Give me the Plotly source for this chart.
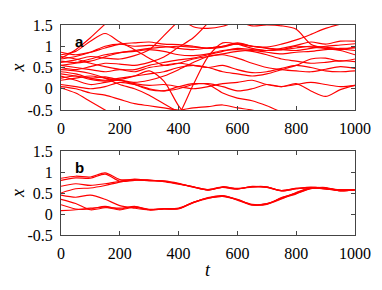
import plotly.graph_objects as go

t_grid = [0, 50, 100, 150, 200, 250, 300, 350, 400, 450, 500, 550, 600, 650, 700, 750, 800, 850, 900, 950, 1000]
N = None

# panel a trajectories (x values at t_grid)
a_lines = [
    [0.72, 0.92, 1.20, 1.52, 1.80, N, N, N, N, N, N, N, N, N, N, N, N, N, N, N, N],
    [0.80, 0.88, 1.12, 1.30, 1.10, 0.92, 0.72, 0.55, 0.60, 0.70, 0.76, 0.80, 0.72, 0.60, 0.50, 0.45, 0.42, 0.40, 0.46, 0.52, 0.48],
    [0.62, 0.68, 0.76, 0.72, 0.70, 0.78, 0.92, 1.25, 1.60, N, N, N, N, N, N, N, N, N, N, N, N],
    [0.86, 0.80, 0.86, 0.96, 1.05, 1.08, 1.10, 1.05, 1.04, 1.00, 0.95, 0.98, 1.06, 1.00, 0.95, 0.92, 0.90, 0.95, 1.00, 1.03, 1.06],
    [0.70, 0.76, 0.86, 1.00, 1.05, 1.00, 1.02, 1.00, 0.95, 0.92, 0.96, 1.00, 1.08, 1.00, 0.96, 0.92, 1.00, 0.98, 0.95, 0.92, 0.98],
    [0.76, 0.70, 0.60, 0.52, 0.46, 0.45, 0.55, 0.62, 0.68, 0.72, 0.80, 0.88, 0.95, 0.92, 0.90, 0.92, 0.96, 1.00, 0.98, 0.94, 0.90],
    [0.50, 0.45, 0.52, 0.60, 0.58, 0.55, 0.62, 0.75, 0.98, 1.20, 1.55, N, N, N, N, N, N, N, N, N, N],
    [0.30, 0.20, 0.10, 0.15, 0.20, 0.15, 0.20, 0.30, 0.45, 0.62, 0.76, 0.82, 0.88, 0.90, 0.86, 0.82, 0.86, 0.88, 0.92, 0.95, 0.96],
    [N, N, N, N, N, N, -1.30, -1.00, -0.62, 0.10, 0.75, 1.08, 1.05, 0.95, 0.90, 0.95, 1.02, 1.10, 1.05, 1.12, 1.12],
    [0.45, 0.42, 0.36, 0.25, 0.10, 0.00, -0.15, -0.35, -0.55, -0.75, N, N, N, N, N, N, N, N, N, N, N],
    [0.20, 0.25, 0.30, 0.25, 0.22, 0.30, 0.42, 0.18, -0.40, -0.80, N, N, N, N, N, N, N, N, N, N, N],
    [0.10, 0.05, 0.00, 0.05, 0.15, 0.10, 0.00, -0.05, 0.00, 0.10, 0.12, 0.05, -0.05, 0.00, 0.10, 0.05, 0.10, 0.15, 0.10, 0.05, 0.08],
    [0.02, -0.10, -0.30, -0.50, -0.70, N, N, N, N, N, N, N, N, N, N, N, N, N, N, N, N],
    [0.25, 0.30, 0.22, 0.18, 0.20, 0.10, -0.02, -0.05, 0.05, 0.12, 0.10, -0.10, -0.22, -0.28, -0.40, -0.55, N, N, N, N, N],
    [0.55, 0.50, 0.45, 0.40, 0.45, 0.40, 0.50, 0.55, 0.60, 0.55, 0.50, 0.55, 0.45, 0.38, 0.40, 0.48, 0.55, 0.50, 0.42, 0.40, 0.42],
    [0.35, 0.30, 0.25, 0.28, 0.20, 0.12, 0.08, 0.10, 0.05, 0.00, 0.05, 0.12, 0.15, 0.20, 0.10, 0.05, 0.12, -0.05, -0.18, -0.02, 0.08],
    [N, N, N, N, N, N, N, N, N, N, N, N, 1.60, 1.48, 1.50, 1.48, 1.40, 1.05, 0.95, 0.90, 0.80],
    [0.55, 0.60, 0.65, 0.75, 0.85, 0.90, 0.95, 0.98, 1.00, 0.98, 0.96, 1.00, 1.05, 1.00, 0.98, 1.05, 1.15, 1.28, 1.42, 1.52, N],
    [0.40, 0.35, 0.25, 0.20, 0.25, 0.30, 0.35, 0.40, 0.50, 0.55, 0.50, 0.40, 0.35, 0.30, 0.35, 0.45, 0.55, 0.70, 0.72, 0.65, 0.70],
    [0.65, 0.62, 0.70, 0.80, 0.85, 0.88, 0.92, 0.88, 0.80, 0.78, 0.82, 0.90, 0.92, 0.88, 0.80, 0.70, 0.65, 0.60, 0.62, 0.66, 0.64],
    [0.05, 0.00, -0.10, -0.15, -0.25, -0.35, -0.40, -0.45, -0.50, -0.45, -0.42, -0.38, -0.45, -0.50, -0.60, N, N, N, N, N, N],
    [N, N, N, N, N, N, N, N, 1.70, 1.46, 1.42, 1.47, 1.60, N, N, N, N, N, N, N, N],
]

# panel b trajectories
b_lines = [
    [0.85, 0.90, 0.88, 0.98, 0.82, 0.82, 0.80, 0.78, 0.72, 0.64, 0.57, 0.64, 0.60, 0.65, 0.64, 0.55, 0.60, 0.63, 0.60, 0.57, 0.58],
    [0.80, 0.86, 0.85, 0.95, 0.78, 0.80, 0.81, 0.77, 0.71, 0.65, 0.58, 0.63, 0.59, 0.66, 0.63, 0.56, 0.61, 0.62, 0.61, 0.58, 0.58],
    [0.66, 0.72, 0.68, 0.72, 0.78, 0.83, 0.80, 0.79, 0.73, 0.64, 0.58, 0.65, 0.60, 0.65, 0.65, 0.55, 0.60, 0.64, 0.60, 0.56, 0.58],
    [0.50, 0.60, 0.62, 0.68, 0.76, 0.81, 0.79, 0.78, 0.72, 0.65, 0.57, 0.64, 0.61, 0.64, 0.64, 0.56, 0.61, 0.63, 0.59, 0.57, 0.58],
    [0.45, 0.40, 0.45, 0.35, 0.20, 0.14, 0.10, 0.12, 0.13, 0.28, 0.38, 0.42, 0.34, 0.22, 0.24, 0.38, 0.50, 0.62, 0.62, 0.56, 0.58],
    [0.35, 0.25, 0.10, 0.15, 0.14, 0.17, 0.11, 0.12, 0.14, 0.27, 0.37, 0.43, 0.33, 0.21, 0.25, 0.37, 0.48, 0.60, 0.63, 0.55, 0.58],
    [0.22, 0.12, 0.12, 0.18, 0.12, 0.18, 0.10, 0.13, 0.13, 0.28, 0.38, 0.42, 0.35, 0.22, 0.23, 0.39, 0.49, 0.61, 0.61, 0.57, 0.58],
    [0.08, 0.10, 0.14, 0.16, 0.10, 0.16, 0.10, 0.12, 0.12, 0.27, 0.39, 0.44, 0.34, 0.23, 0.24, 0.36, 0.51, 0.63, 0.62, 0.55, 0.58],
]

x_ticks = [0, 200, 400, 600, 800, 1000]
y_ticks = [-0.5, 0, 0.5, 1, 1.5]
y_tick_labels = ["-0.5", "0", "0.5", "1", "1.5"]
panel_labels = ["a", "b"]
y_title = "x"
x_title = "t"

RED = "#ff0000"
fig = go.Figure()
for ys in a_lines:
    fig.add_trace(go.Scatter(x=t_grid, y=ys, mode="lines", line=dict(color=RED, width=1.15, shape="spline", smoothing=0.8),
                             showlegend=False, hoverinfo="skip", xaxis="x", yaxis="y"))
for ys in b_lines:
    fig.add_trace(go.Scatter(x=t_grid, y=ys, mode="lines", line=dict(color=RED, width=1.15, shape="spline", smoothing=0.8),
                             showlegend=False, hoverinfo="skip", xaxis="x2", yaxis="y2"))

serif = "Liberation Serif, Times New Roman, serif"
axis_common = dict(showgrid=False, zeroline=False, ticks="inside", ticklen=4, tickcolor="#444",
                   showline=True, linecolor="#444", linewidth=1, mirror="allticks", automargin=False,
                   tickfont=dict(family=serif, size=16, color="black"))

title_font = dict(family=serif, size=18, color="black")

# the page body has an 8px default margin, so the figure is sized/offset to compensate
fig.update_layout(
    width=374, height=282,
    margin=dict(l=53, r=27, t=17, b=55),
    paper_bgcolor="white", plot_bgcolor="white",
    xaxis=dict(domain=[0, 1], range=[0, 1000], tickvals=x_ticks, anchor="y", ticklabelstandoff=4, **axis_common),
    yaxis=dict(domain=[0.595, 1], range=[-0.5, 1.5], tickvals=y_ticks, ticktext=y_tick_labels, anchor="x",
               ticklabelstandoff=4, title=dict(text="<i>%s</i>" % y_title, font=title_font, standoff=9), **axis_common),
    xaxis2=dict(domain=[0, 1], range=[0, 1000], tickvals=x_ticks, anchor="y2", ticklabelstandoff=4, **axis_common),
    yaxis2=dict(domain=[0, 0.4], range=[-0.5, 1.5], tickvals=y_ticks, ticktext=y_tick_labels, anchor="x2",
                ticklabelstandoff=4, title=dict(text="<i>%s</i>" % y_title, font=title_font, standoff=9), **axis_common),
    annotations=[
        dict(text="<b>%s</b>" % panel_labels[0], xref="x domain", yref="y domain", x=0.04, y=0.93, xanchor="left", yanchor="top",
             showarrow=False, font=dict(family="Liberation Sans", size=15, color="black")),
        dict(text="<b>%s</b>" % panel_labels[1], xref="x2 domain", yref="y2 domain", x=0.04, y=0.93, xanchor="left", yanchor="top",
             showarrow=False, font=dict(family="Liberation Sans", size=15, color="black")),
        dict(text="<i>%s</i>" % x_title, xref="paper", yref="paper", x=0.5, y=-0.167, xanchor="center", yanchor="middle",
             showarrow=False, font=title_font),
    ],
)

fig.write_html("out.html")
